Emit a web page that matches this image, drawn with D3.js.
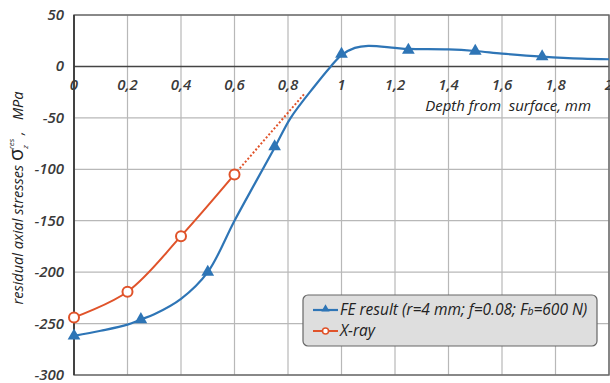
<!DOCTYPE html>
<html>
<head>
<meta charset="utf-8">
<script src="https://cdn.jsdelivr.net/npm/d3@7"></script>
<style>
  body { margin: 0; background: #fff; }
  svg { display: block; font-family: "Open Sans", sans-serif; }
  text { font-style: italic; }
</style>
</head>
<body>
<div id="chart"></div>
<script>
// x ticks and y ticks as shown on the chart
var xTicks = [0, 0.2, 0.4, 0.6, 0.8, 1, 1.2, 1.4, 1.6, 1.8, 2];
var yTicks = [50, 0, -50, -100, -150, -200, -250, -300];

// FE result - smooth curve samples and marker points
var feCurveX = [0, 0.1, 0.2, 0.25, 0.3, 0.4, 0.5, 0.6, 0.68, 0.75, 0.81, 0.9, 0.96, 1.0, 1.05, 1.1, 1.2, 1.25, 1.4, 1.5, 1.6, 1.75, 1.9, 2.0];
var feCurveY = [-262, -257, -251, -246, -241, -226, -200, -150, -112, -79, -50, -19, 0, 11, 18, 20, 18, 17, 16.5, 15, 12.5, 9.5, 7.5, 7];
var feMarkX = [0, 0.25, 0.5, 0.75, 1, 1.25, 1.5, 1.75];
var feMarkY = [-262, -246, -200, -78, 12, 16, 15, 9.5];

// X-ray measurements and dashed trend
var xrayX = [0, 0.2, 0.4, 0.6];
var xrayY = [-244, -219, -165, -105];
var trendX = [0.6, 0.86];
var trendY = [-105, -27];

var width = 610;
var height = 383;
var mLeft = 74, mRight = 609, mTop = 15, mBottom = 375;

var blue = "#2e75b6";
var orange = "#e0532a";

var svg = d3.select("#chart")
    .append("svg")
    .attr("width", width)
    .attr("height", height);

var x = d3.scaleLinear().domain([0, 2]).range([mLeft, mRight]);
var y = d3.scaleLinear().domain([-300, 50]).range([mBottom, mTop]);

// grid
svg.append("g")
    .selectAll("line")
    .data(xTicks)
    .enter().append("line")
    .attr("x1", function (d) { return x(d); })
    .attr("x2", function (d) { return x(d); })
    .attr("y1", mTop)
    .attr("y2", mBottom)
    .attr("stroke", "#b8b8b8")
    .attr("stroke-width", 1.2);

svg.append("g")
    .selectAll("line")
    .data(yTicks)
    .enter().append("line")
    .attr("x1", mLeft)
    .attr("x2", mRight)
    .attr("y1", function (d) { return y(d); })
    .attr("y2", function (d) { return y(d); })
    .attr("stroke", function (d) { return d === 0 ? "#444" : "#b8b8b8"; })
    .attr("stroke-width", function (d) { return d === 0 ? 1.6 : 1.2; });

// frame
svg.append("rect")
    .attr("x", mLeft)
    .attr("y", mTop)
    .attr("width", mRight - mLeft)
    .attr("height", mBottom - mTop)
    .attr("fill", "none")
    .attr("stroke", "#666")
    .attr("stroke-width", 1.4);

svg.append("line")
    .attr("x1", mLeft).attr("x2", mLeft)
    .attr("y1", mTop).attr("y2", mBottom)
    .attr("stroke", "#333")
    .attr("stroke-width", 1.6);

// y tick labels
svg.append("g")
    .selectAll("text")
    .data(yTicks)
    .enter().append("text")
    .attr("x", mLeft - 10)
    .attr("y", function (d) { return y(d) + 5; })
    .attr("text-anchor", "end")
    .attr("font-size", 15)
    .attr("font-weight", 600)
    .attr("fill", "#3a3a3a")
    .text(function (d) { return d; });

// x tick labels (comma decimal)
svg.append("g")
    .selectAll("text")
    .data(xTicks)
    .enter().append("text")
    .attr("x", function (d) { return x(d); })
    .attr("y", y(0) + 24)
    .attr("text-anchor", "middle")
    .attr("font-size", 15)
    .attr("font-weight", 600)
    .attr("fill", "#3a3a3a")
    .text(function (d) { return String(d).replace(".", ","); });

svg.append("text")
    .attr("x", 591)
    .attr("y", y(0) + 45)
    .attr("text-anchor", "end")
    .attr("font-size", 15)
    .attr("fill", "#222")
    .attr("xml:space", "preserve")
    .text("Depth from  surface, mm");

// y axis title
var yTitle = svg.append("text")
    .attr("transform", "translate(23,198) rotate(-90)")
    .attr("text-anchor", "middle")
    .attr("font-size", 14.5)
    .attr("fill", "#222")
    .attr("xml:space", "preserve");
yTitle.append("tspan").text("residual axial stresses ");
yTitle.append("tspan").attr("font-size", 20).attr("font-style", "normal").text("σ");
yTitle.append("tspan").attr("font-size", 8).attr("dy", 5).text("z");
yTitle.append("tspan").attr("font-size", 8).attr("dx", -4).attr("dy", -14).text("res");
yTitle.append("tspan").attr("dy", 9).text(" ,   MPa");

// FE curve
var feLine = d3.line()
    .x(function (d) { return x(d[0]); })
    .y(function (d) { return y(d[1]); })
    .curve(d3.curveCatmullRom.alpha(0.5));

var fePts = feCurveX.map(function (v, i) { return [v, feCurveY[i]]; });
svg.append("path")
    .attr("d", feLine(fePts))
    .attr("fill", "none")
    .attr("stroke", blue)
    .attr("stroke-width", 2.2);

var tri = d3.symbol().type(d3.symbolTriangle).size(70);
svg.append("g")
    .selectAll("path")
    .data(feMarkX.map(function (v, i) { return [v, feMarkY[i]]; }))
    .enter().append("path")
    .attr("d", tri)
    .attr("transform", function (d) { return "translate(" + x(d[0]) + "," + y(d[1]) + ")"; })
    .attr("fill", blue);

// X-ray
var xrayPts = xrayX.map(function (v, i) { return [v, xrayY[i]]; });
svg.append("path")
    .attr("d", d3.line()
        .x(function (d) { return x(d[0]); })
        .y(function (d) { return y(d[1]); })
        .curve(d3.curveCatmullRom.alpha(0.5))(xrayPts))
    .attr("fill", "none")
    .attr("stroke", orange)
    .attr("stroke-width", 2);

svg.append("path")
    .attr("d", d3.line()
        .x(function (d) { return x(d[0]); })
        .y(function (d) { return y(d[1]); })(trendX.map(function (v, i) { return [v, trendY[i]]; })))
    .attr("fill", "none")
    .attr("stroke", orange)
    .attr("stroke-width", 2)
    .attr("stroke-dasharray", "2,2");

svg.append("g")
    .selectAll("circle")
    .data(xrayPts)
    .enter().append("circle")
    .attr("cx", function (d) { return x(d[0]); })
    .attr("cy", function (d) { return y(d[1]); })
    .attr("r", 5)
    .attr("fill", "#fff")
    .attr("stroke", orange)
    .attr("stroke-width", 2);

// legend
var lg = svg.append("g").attr("transform", "translate(303,295)");
lg.append("rect")
    .attr("width", 294)
    .attr("height", 51)
    .attr("rx", 5)
    .attr("fill", "#dedede")
    .attr("stroke", "#666")
    .attr("stroke-width", 1.2);

lg.append("line").attr("x1", 10).attr("x2", 35).attr("y1", 15).attr("y2", 15)
    .attr("stroke", blue).attr("stroke-width", 2.2);
lg.append("path").attr("d", d3.symbol().type(d3.symbolTriangle).size(30))
    .attr("transform", "translate(22.5,14)").attr("fill", blue);

lg.append("line").attr("x1", 10).attr("x2", 35).attr("y1", 36).attr("y2", 36)
    .attr("stroke", orange).attr("stroke-width", 2);
lg.append("circle").attr("cx", 22.5).attr("cy", 36).attr("r", 3)
    .attr("fill", "#fff").attr("stroke", orange).attr("stroke-width", 1.5);

var t1 = lg.append("text").attr("x", 37).attr("y", 20)
    .attr("font-size", 15.5).attr("fill", "#222");
t1.append("tspan").text("FE result (r=4 mm; f=0.08; F");
t1.append("tspan").attr("font-size", 10.5).text("b");
t1.append("tspan").text("=600 N)");

lg.append("text").attr("x", 37).attr("y", 41)
    .attr("font-size", 15.5).attr("fill", "#222")
    .text("X-ray");
</script>
</body>
</html>
